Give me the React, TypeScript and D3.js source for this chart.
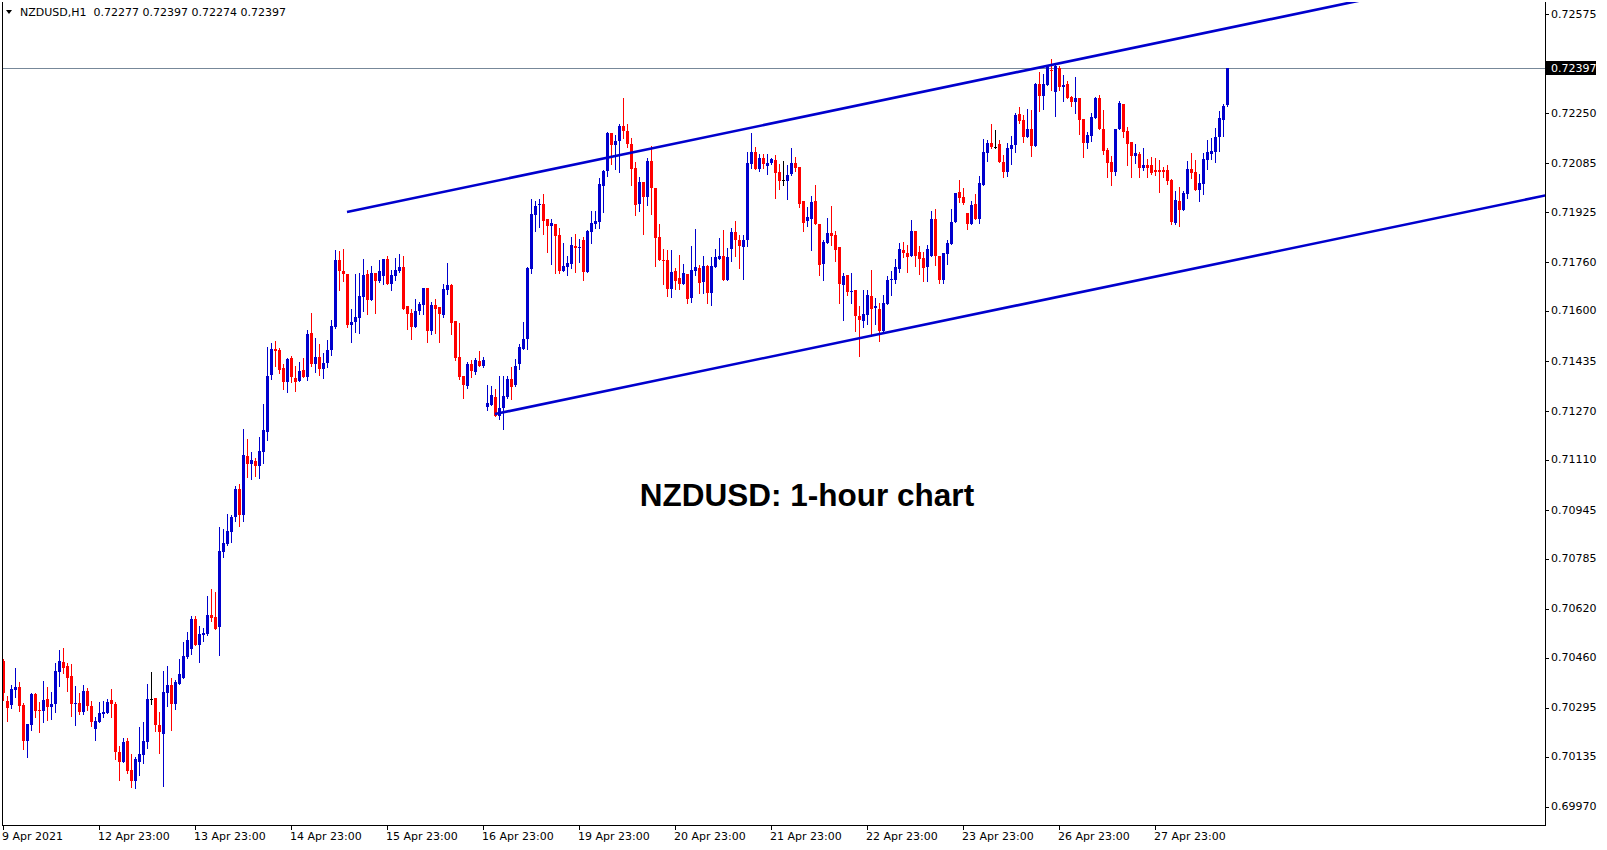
import React from 'react';
import * as d3 from 'd3';

// NZDUSD H1, prices in points (price * 100000), one row per trading day
const opens = [
  70450, 70317, 70304, 70354, 70363, 70304, 70187, 70240, 70340, 70288, 70286, 70324, 70299, 70309, 70414, 70446, 70433, 70400, 70309, 70311, 70282, 70350, 70302, 70224,
  70249, 70276, 70279, 70320, 70308, 70150, 70118, 70186, 70091, 70056, 70118, 70141, 70184, 70323, 70328, 70239, 70210, 70345, 70370, 70309, 70375, 70394, 70463, 70490,
  70587, 70502, 70536, 70538, 70600, 70593, 70562, 70808, 70835, 70874, 70923, 71014, 70929, 71123, 71098, 71106, 71090, 71137, 71203, 71389, 71475, 71471, 71412, 71366,
  71445, 71379, 71369, 71406, 71383, 71527, 71427, 71450, 71410, 71430, 71470, 71546, 71767, 71731, 71721, 71554, 71563, 71577, 71646, 71721, 71636, 71724, 71698, 71715,
  71771, 71688, 71715, 71731, 71744, 71616, 71593, 71548, 71600, 71620, 71676, 71535, 71620, 71613, 71587, 71670, 71685, 71567, 71449, 71386, 71354, 71426, 71400, 71435,
  71419, 71285, 71292, 71317, 71256, 71281, 71317, 71376, 71358, 71425, 71475, 71508, 71738, 71915, 71949, 71952, 71902, 71879, 71886, 71850, 71731, 71744, 71754, 71814,
  71808, 71833, 71728, 71860, 71886, 71892, 72011, 72060, 72185, 72146, 72159, 72208, 72190, 72149, 72070, 71952, 72024, 71975, 72093, 72004, 71843, 71767, 71767, 71672,
  71731, 71708, 71689, 71721, 71642, 71731, 71741, 71695, 71748, 71659, 71744, 71771, 71780, 71701, 71803, 71859, 71833, 71810, 71833, 72083, 72122, 72066, 72102, 72076,
  72086, 72096, 72056, 72030, 72027, 72050, 72086, 72073, 71961, 71895, 71902, 71961, 71885, 71754, 71824, 71856, 71850, 71810, 71686, 71718, 71664, 71669, 71584, 71567,
  71587, 71649, 71610, 71607, 71534, 71623, 71700, 71702, 71738, 71801, 71791, 71781, 71863, 71794, 71774, 71745, 71782, 71902, 71782, 71702, 71788, 71821, 71892, 71991,
  71975, 71921, 71886, 71952, 71902, 72014, 72119, 72152, 72139, 72149, 72090, 72057, 72132, 72146, 72247, 72228, 72172, 72198, 72142, 72346, 72306, 72342, 72392, 72319,
  72398, 72336, 72346, 72303, 72286, 72300, 72231, 72152, 72175, 72234, 72300, 72198, 72129, 72089, 72056, 72198, 72280, 72191, 72155, 72109, 72115, 72069, 72079, 72079,
  72063, 72063, 72063, 72063, 72030, 71889, 71961, 71931, 71984, 72066, 72056, 71997, 72017, 72096, 72115, 72122, 72171, 72227, 72277,
];
const highs = [
  70454, 70334, 70370, 70426, 70380, 70312, 70242, 70345, 70343, 70314, 70383, 70363, 70347, 70443, 70485, 70492, 70442, 70439, 70367, 70344, 70370, 70360, 70316, 70264,
  70314, 70317, 70324, 70357, 70314, 70171, 70196, 70196, 70143, 70135, 70232, 70249, 70375, 70413, 70328, 70280, 70416, 70433, 70393, 70385, 70457, 70512, 70545, 70597,
  70597, 70564, 70558, 70664, 70686, 70676, 70889, 70884, 70932, 70928, 71024, 71031, 71212, 71179, 71136, 71116, 71186, 71294, 71481, 71494, 71501, 71478, 71425, 71445,
  71452, 71419, 71432, 71445, 71537, 71594, 71512, 71491, 71460, 71504, 71570, 71800, 71797, 71803, 71721, 71606, 71721, 71724, 71771, 71734, 71748, 71724, 71767, 71771,
  71780, 71734, 71774, 71787, 71780, 71616, 71606, 71639, 71629, 71676, 71676, 71629, 71639, 71613, 71689, 71758, 71689, 71567, 71560, 71386, 71432, 71439, 71445, 71468,
  71449, 71358, 71354, 71343, 71387, 71387, 71387, 71416, 71442, 71491, 71564, 71744, 71968, 71961, 71968, 71984, 71902, 71902, 71886, 71873, 71823, 71781, 71843, 71853,
  71837, 71843, 71866, 71929, 71929, 72037, 72063, 72188, 72185, 72178, 72214, 72300, 72215, 72170, 72090, 72040, 72024, 72103, 72142, 72004, 71886, 71804, 71800, 71800,
  71741, 71784, 71754, 71721, 71813, 71869, 71751, 71781, 71751, 71777, 71804, 71840, 71866, 71807, 71872, 71895, 71849, 71849, 72122, 72185, 72139, 72116, 72116, 72116,
  72102, 72112, 72083, 72093, 72080, 72135, 72106, 72073, 71961, 71941, 71978, 72014, 71885, 71833, 71906, 71945, 71863, 71810, 71725, 71718, 71725, 71669, 71616, 71669,
  71669, 71735, 71643, 71626, 71653, 71715, 71732, 71771, 71824, 71827, 71817, 71899, 71863, 71814, 71794, 71817, 71929, 71935, 71782, 71790, 71833, 71935, 71988, 72030,
  72004, 71922, 71961, 71984, 72044, 72165, 72162, 72215, 72195, 72162, 72113, 72152, 72175, 72251, 72270, 72244, 72264, 72261, 72349, 72385, 72379, 72408, 72428, 72415,
  72405, 72375, 72356, 72306, 72369, 72300, 72231, 72188, 72250, 72303, 72309, 72260, 72135, 72109, 72198, 72290, 72280, 72204, 72155, 72148, 72122, 72135, 72099, 72106,
  72102, 72096, 72074, 72079, 72033, 71994, 72007, 71994, 72092, 72119, 72096, 72050, 72119, 72162, 72168, 72201, 72257, 72280, 72397,
];
const lows = [
  70321, 70253, 70296, 70332, 70286, 70160, 70134, 70223, 70266, 70217, 70249, 70256, 70259, 70282, 70368, 70408, 70351, 70269, 70240, 70276, 70276, 70288, 70235, 70190,
  70249, 70266, 70279, 70266, 70128, 70059, 70118, 70082, 70035, 70033, 70075, 70115, 70164, 70308, 70220, 70145, 70039, 70302, 70223, 70292, 70375, 70394, 70460, 70473,
  70500, 70447, 70516, 70535, 70581, 70555, 70470, 70792, 70830, 70839, 70910, 70894, 70910, 71054, 71048, 71057, 71052, 71101, 71176, 71377, 71419, 71396, 71343, 71334,
  71366, 71338, 71369, 71383, 71373, 71419, 71400, 71390, 71380, 71415, 71455, 71543, 71669, 71698, 71547, 71498, 71531, 71527, 71600, 71590, 71636, 71593, 71695, 71688,
  71688, 71669, 71701, 71728, 71606, 71540, 71508, 71548, 71590, 71590, 71499, 71525, 71529, 71499, 71580, 71656, 71524, 71440, 71377, 71315, 71348, 71383, 71391, 71419,
  71414, 71275, 71292, 71256, 71243, 71213, 71314, 71312, 71354, 71410, 71475, 71475, 71725, 71863, 71876, 71853, 71794, 71754, 71725, 71725, 71731, 71718, 71741, 71728,
  71761, 71702, 71728, 71823, 71873, 71873, 71925, 72044, 72083, 72067, 72057, 72170, 72140, 72014, 71915, 71929, 71853, 71948, 71919, 71748, 71767, 71689, 71649, 71646,
  71672, 71672, 71689, 71626, 71629, 71718, 71659, 71659, 71626, 71619, 71744, 71771, 71701, 71701, 71764, 71780, 71741, 71705, 71813, 72070, 72066, 72060, 72070, 72050,
  72083, 71971, 72001, 72014, 71968, 72047, 72060, 71941, 71862, 71879, 71800, 71885, 71718, 71701, 71824, 71817, 71764, 71626, 71570, 71653, 71626, 71534, 71452, 71547,
  71557, 71518, 71557, 71501, 71534, 71623, 71653, 71692, 71728, 71778, 71728, 71781, 71748, 71722, 71699, 71699, 71782, 71752, 71691, 71691, 71755, 71821, 71892, 71958,
  71952, 71869, 71886, 71902, 71889, 72014, 72093, 72136, 72136, 72090, 72040, 72044, 72083, 72123, 72218, 72155, 72172, 72109, 72142, 72257, 72263, 72342, 72326, 72240,
  72326, 72290, 72300, 72273, 72250, 72181, 72106, 72135, 72158, 72234, 72198, 72115, 72040, 72014, 72046, 72198, 72171, 72079, 72040, 72086, 72040, 72063, 72040, 72050,
  72046, 71991, 72040, 72017, 71885, 71885, 71879, 71931, 71971, 72037, 71997, 71961, 71984, 72066, 72099, 72089, 72125, 72175, 72274,
];
const closes = [
  70343, 70296, 70357, 70363, 70302, 70187, 70242, 70340, 70286, 70286, 70321, 70299, 70308, 70416, 70449, 70427, 70394, 70309, 70312, 70282, 70350, 70302, 70249, 70252,
  70278, 70282, 70314, 70309, 70151, 70118, 70183, 70089, 70054, 70127, 70143, 70186, 70324, 70323, 70237, 70214, 70347, 70370, 70309, 70381, 70406, 70466, 70518, 70587,
  70500, 70538, 70541, 70600, 70591, 70555, 70810, 70837, 70876, 70923, 71014, 70929, 71126, 71098, 71110, 71090, 71139, 71208, 71386, 71475, 71468, 71406, 71366, 71442,
  71383, 71366, 71402, 71383, 71524, 71427, 71450, 71410, 71430, 71470, 71550, 71767, 71731, 71721, 71554, 71563, 71580, 71649, 71718, 71636, 71724, 71698, 71731, 71771,
  71688, 71718, 71734, 71744, 71606, 71590, 71547, 71600, 71623, 71676, 71535, 71620, 71606, 71590, 71672, 71685, 71560, 71446, 71383, 71358, 71426, 71403, 71439, 71419,
  71439, 71297, 71324, 71256, 71281, 71320, 71376, 71351, 71419, 71481, 71508, 71741, 71919, 71945, 71952, 71896, 71879, 71889, 71846, 71731, 71748, 71758, 71817, 71807,
  71810, 71728, 71863, 71889, 71896, 72017, 72060, 72185, 72146, 72159, 72208, 72190, 72149, 72067, 71948, 72024, 71975, 72093, 72004, 71840, 71767, 71765, 71672, 71728,
  71698, 71689, 71725, 71639, 71735, 71744, 71692, 71748, 71659, 71748, 71777, 71781, 71701, 71777, 71859, 71833, 71813, 71833, 72086, 72122, 72066, 72102, 72083, 72086,
  72099, 72053, 72027, 72030, 72047, 72086, 72070, 71951, 71889, 71908, 71958, 71885, 71751, 71826, 71856, 71847, 71801, 71689, 71715, 71663, 71667, 71584, 71570, 71590,
  71653, 71607, 71616, 71534, 71626, 71702, 71705, 71745, 71804, 71791, 71778, 71863, 71781, 71771, 71741, 71804, 71902, 71782, 71702, 71790, 71823, 71892, 71988, 71971,
  71955, 71886, 71948, 71902, 72021, 72123, 72152, 72139, 72139, 72090, 72057, 72136, 72146, 72244, 72224, 72172, 72198, 72142, 72346, 72306, 72346, 72402, 72388, 72405,
  72336, 72342, 72300, 72286, 72300, 72227, 72152, 72178, 72237, 72300, 72198, 72125, 72086, 72056, 72198, 72283, 72188, 72148, 72109, 72119, 72069, 72079, 72069, 72053,
  72056, 72056, 72056, 72027, 71892, 71964, 71931, 71987, 72066, 72053, 71997, 72020, 72099, 72122, 72125, 72171, 72234, 72273, 72397,
];

// one label every 24 bars
const timeLabels = [
  '9 Apr 2021', '12 Apr 23:00', '13 Apr 23:00', '14 Apr 23:00', '15 Apr 23:00', '16 Apr 23:00', '19 Apr 23:00',
  '20 Apr 23:00', '21 Apr 23:00', '22 Apr 23:00', '23 Apr 23:00', '26 Apr 23:00', '27 Apr 23:00',
];
const priceTicks = [
  0.72575, 0.72250, 0.72085, 0.71925, 0.71760, 0.71600, 0.71435, 0.71270, 0.71110,
  0.70945, 0.70785, 0.70620, 0.70460, 0.70295, 0.70135, 0.69970,
];
const header = 'NZDUSD,H1  0.72277 0.72397 0.72274 0.72397';
const title = 'NZDUSD: 1-hour chart';
const currentPrice = 0.72397;

// channel rays: anchor bar index + price, and a second point for the slope
const upperChannel = [{ bar: 86, price: 0.71925 }, { bar: 338, price: 0.72617 }];
const lowerChannel = [{ bar: 123, price: 0.71261 }, { bar: 385, price: 0.71978 }];

const W = 1607;
const H = 850;
const plot = { left: 2, top: 2, right: 1545, bottom: 825 };
const BULL = '#0000CD';
const BEAR = '#FF0000';
const axisFont = '"DejaVu Sans", sans-serif';

export default function App() {
  const n = opens.length;
  const x = d3.scaleLinear().domain([0, n - 1]).range([3, 3 + 4 * (n - 1)]);
  const y = d3.scaleLinear().domain([0.69970, 0.72575]).range([806.7, 14.35]);

  const candles = d3.range(n).map((i) => {
    const o = opens[i] / 1e5, h = highs[i] / 1e5, l = lows[i] / 1e5, c = closes[i] / 1e5;
    const cx = Math.round(x(i));
    const color = o === c ? '#000000' : c > o ? BULL : BEAR;
    const bt = Math.round(y(Math.max(o, c)));
    const bb = Math.round(y(Math.min(o, c)));
    const wt = Math.round(y(h));
    const wb = Math.round(y(l));
    return (
      <g key={i} fill={color}>
        <rect x={cx} y={wt} width={1} height={wb - wt + 1} />
        <rect x={cx - 1} y={bt} width={3} height={Math.max(1, bb - bt)} />
      </g>
    );
  });

  const ray = (pts: { bar: number; price: number }[]) => {
    const slope = (pts[1].price - pts[0].price) / (pts[1].bar - pts[0].bar);
    const endBar = x.invert(plot.right + 10);
    const endPrice = pts[0].price + slope * (endBar - pts[0].bar);
    return { x1: x(pts[0].bar), y1: y(pts[0].price), x2: x(endBar), y2: y(endPrice) };
  };
  const up = ray(upperChannel);
  const lo = ray(lowerChannel);
  const cpY = Math.round(y(currentPrice)) + 0.5;

  return (
    <svg
      width={W}
      height={H}
      style={{ position: 'absolute', left: 0, top: 0, background: '#ffffff' }}
    >
      <defs>
        <clipPath id="plot-clip">
          <rect x={plot.left} y={plot.top} width={plot.right - plot.left} height={plot.bottom - plot.top} />
        </clipPath>
      </defs>
      <rect x={0} y={0} width={W} height={H} fill="#ffffff" />

      <g clipPath="url(#plot-clip)">
        <line x1={plot.left} x2={plot.right} y1={cpY} y2={cpY} stroke="#778899" strokeWidth={1} />
        <g shapeRendering="crispEdges">{candles}</g>
        <line {...up} stroke={BULL} strokeWidth={2.6} />
        <line {...lo} stroke={BULL} strokeWidth={2.6} />
      </g>

      {/* frame */}
      <g shapeRendering="crispEdges" stroke="#000000" strokeWidth={1}>
        <line x1={plot.left + 0.5} x2={plot.left + 0.5} y1={plot.top} y2={plot.bottom + 1} />
        <line x1={plot.right + 0.5} x2={plot.right + 0.5} y1={plot.top} y2={plot.bottom + 1} />
        <line x1={plot.left} x2={plot.right + 1} y1={plot.bottom + 0.5} y2={plot.bottom + 0.5} />
      </g>

      {/* price axis */}
      <g fontFamily={axisFont} fontSize={11} fill="#000000">
        {priceTicks.map((p) => (
          <g key={p}>
            <line x1={plot.right} x2={plot.right + 4} y1={Math.round(y(p)) + 0.5} y2={Math.round(y(p)) + 0.5} stroke="#000" shapeRendering="crispEdges" />
            <text x={plot.right + 6} y={y(p)} dominantBaseline="central">{p.toFixed(5)}</text>
          </g>
        ))}
        <rect x={plot.right + 1} y={Math.round(y(currentPrice)) - 7} width={50} height={14} fill="#000000" />
        <text x={plot.right + 6} y={y(currentPrice)} dominantBaseline="central" fill="#ffffff">{currentPrice.toFixed(5)}</text>
      </g>

      {/* time axis */}
      <g fontFamily={axisFont} fontSize={11} fill="#000000">
        {timeLabels.map((t, k) => (
          <g key={t}>
            <line x1={Math.round(x(k * 24)) + 0.5} x2={Math.round(x(k * 24)) + 0.5} y1={plot.bottom} y2={plot.bottom + 5} stroke="#000" shapeRendering="crispEdges" />
            <text x={x(k * 24) - 1} y={836.5} dominantBaseline="central">{t}</text>
          </g>
        ))}
      </g>

      {/* header */}
      <path d="M6,10 L12,10 L9,14 Z" fill="#000000" />
      <text x={20} y={12} fontFamily={axisFont} fontSize={11} dominantBaseline="central" style={{ whiteSpace: 'pre' }}>{header}</text>

      <text x={807} y={506} textAnchor="middle" fontFamily='"Liberation Sans", Arial, sans-serif' fontWeight="bold" fontSize={31.5}>
        {title}
      </text>
    </svg>
  );
}
